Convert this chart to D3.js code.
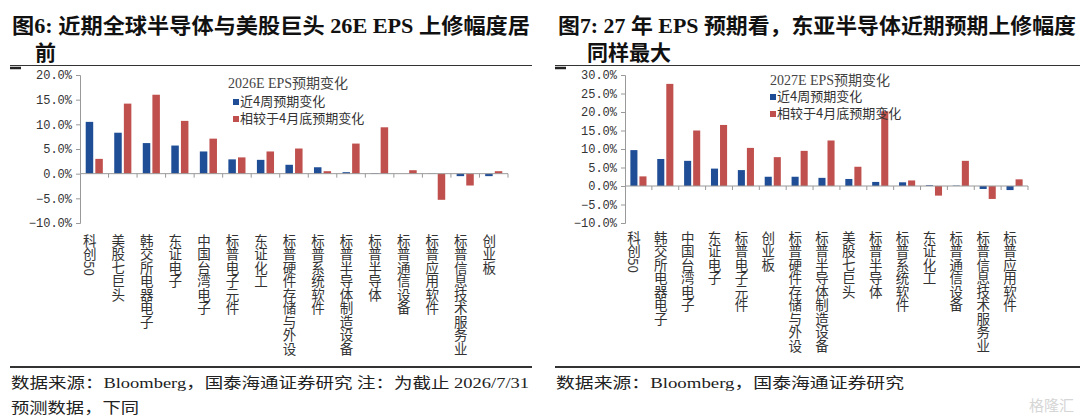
<!DOCTYPE html>
<html>
<head>
<meta charset="utf-8">
<script src="https://cdn.jsdelivr.net/npm/d3@7"></script>
<style>
  html, body { margin: 0; padding: 0; background: #fff; }
  svg { display: block; }
</style>
</head>
<body>
<div id="chart"></div>
<script>
// Figure 6: 2026E EPS revisions
const leftCategories = ["科创50", "美股七巨头", "韩交所电器电子", "东证电子", "中国台湾电子", "标普电子元件", "东证化工",
  "标普硬件存储与外设", "标普系统软件", "标普半导体制造设备", "标普半导体", "标普通信设备", "标普应用软件",
  "标普信息技术服务业", "创业板"];
const leftRecent4w = [10.5, 8.3, 6.2, 5.7, 4.5, 2.9, 2.8, 1.8, 1.3, 0.3, 0.1, 0.0, -0.05, -0.5, -0.5];
const leftSinceApril = [3.0, 14.2, 16.0, 10.7, 7.1, 3.3, 4.5, 5.1, 0.5, 6.1, 9.4, 0.7, -5.3, -2.4, 0.5];
const leftTicks = [-10, -5, 0, 5, 10, 15, 20];

// Figure 7: 2027E EPS revisions
const rightCategories = ["科创50", "韩交所电器电子", "中国台湾电子", "东证电子", "标普电子元件", "创业板",
  "标普硬件存储与外设", "标普半导体制造设备", "美股七巨头", "标普半导体", "标普系统软件", "东证化工",
  "标普通信设备", "标普信息技术服务业", "标普应用软件"];
const rightRecent4w = [9.7, 7.3, 6.8, 4.7, 4.3, 2.5, 2.5, 2.2, 1.9, 1.1, 1.0, 0.2, 0.1, -0.8, -1.1];
const rightSinceApril = [2.6, 27.6, 15.0, 16.5, 10.3, 7.8, 9.5, 12.3, 5.2, 20.2, 1.5, -2.6, 6.8, -3.5, 1.8];
const rightTicks = [-10, -5, 0, 5, 10, 15, 20, 25, 30];

const seriesNames = ["近4周预期变化", "相较于4月底预期变化"];
const colors = ["#1F4E96", "#C0504D"];

const width = 1080;
const height = 416;
const cjk = "'Noto Sans CJK SC', sans-serif";
const serif = "'Liberation Serif', 'Noto Sans CJK SC', serif";

const svg = d3.select("#chart").append("svg")
  .attr("width", width)
  .attr("height", height);

// draw one panel (title, rules, bars, axes, legend, footer)
function drawPanel(p) {
  const g = svg.append("g");

  // title lines
  g.append("text")
    .attr("x", p.titleX).attr("y", 33)
    .attr("textLength", p.titleLen).attr("lengthAdjust", "spacingAndGlyphs")
    .style("font-family", serif).style("font-weight", "bold").style("font-size", "21px")
    .attr("fill", "#111")
    .text(p.title1);
  g.append("text")
    .attr("x", p.title2X).attr("y", 60)
    .style("font-family", serif).style("font-weight", "bold").style("font-size", "21px")
    .attr("fill", "#111")
    .text(p.title2);

  // rule under title
  g.append("line")
    .attr("x1", p.ruleX1).attr("x2", p.ruleX2).attr("y1", 65.5).attr("y2", 65.5)
    .attr("stroke", "#333").attr("stroke-width", 1);
  g.append("line")
    .attr("x1", p.ruleX1).attr("x2", p.ruleX1 + 11).attr("y1", 68).attr("y2", 68)
    .attr("stroke", "#222").attr("stroke-width", 2.5);

  // bottom rule
  g.append("line")
    .attr("x1", p.ruleX1).attr("x2", p.ruleX2).attr("y1", 367).attr("y2", 367)
    .attr("stroke", "#333").attr("stroke-width", 2);

  // scales
  const x = d3.scaleBand()
    .domain(p.categories)
    .range([p.x0, p.x1]);
  const y = d3.scaleLinear()
    .domain([p.ticks[0], p.ticks[p.ticks.length - 1]])
    .range([223, 75]);
  const sub = d3.scaleBand()
    .domain([0, 1])
    .range([x.bandwidth() * 0.2, x.bandwidth() * 0.8])
    .paddingInner(0.22);

  // bars
  [p.recent, p.since].forEach((vals, s) => {
    g.append("g").selectAll("rect")
      .data(vals)
      .join("rect")
      .attr("x", (d, i) => x(p.categories[i]) + sub(s))
      .attr("width", sub.bandwidth())
      .attr("y", d => y(Math.max(0, d)))
      .attr("height", d => Math.abs(y(d) - y(0)))
      .attr("fill", colors[s]);
  });

  // y axis
  const yAxis = g.append("g")
    .attr("transform", `translate(${p.x0},0)`)
    .call(d3.axisLeft(y).tickValues(p.ticks).tickSize(4).tickPadding(4)
      .tickFormat(d => d3.format(".1f")(d) + "%"));
  yAxis.select(".domain").attr("stroke", "#999");
  yAxis.selectAll(".tick line").attr("stroke", "#999");
  yAxis.selectAll(".tick text")
    .style("font-family", "'Liberation Mono', monospace").style("font-size", "12px")
    .attr("fill", "#333");

  // x axis at zero, ticks between categories
  const xAxisG = g.append("g").attr("transform", `translate(0,${y(0)})`);
  xAxisG.append("line")
    .attr("x1", p.x0).attr("x2", p.x1)
    .attr("stroke", "#999");
  xAxisG.selectAll(".xtick")
    .data(p.categories)
    .join("line")
    .attr("class", "xtick")
    .attr("x1", d => x(d) + x.bandwidth()).attr("x2", d => x(d) + x.bandwidth())
    .attr("y1", 0).attr("y2", 4)
    .attr("stroke", "#999");

  // vertical category labels
  g.append("g").selectAll("text")
    .data(p.categories)
    .join("text")
    .attr("x", d => x(d) + x.bandwidth() / 2 - 4.5)
    .attr("y", p.labelY)
    .attr("writing-mode", "tb")
    .style("font-family", cjk).style("font-size", "13.5px")
    .attr("fill", "#333")
    .text(d => d);

  // chart title + legend
  g.append("text")
    .attr("x", p.chartTitleX).attr("y", p.chartTitleY)
    .attr("text-anchor", "middle")
    .style("font-family", serif).style("font-size", "14px")
    .attr("fill", "#444")
    .text(p.chartTitle);
  seriesNames.forEach((name, i) => {
    const ly = p.legendY[i];
    g.append("rect")
      .attr("x", p.legendX).attr("y", ly - 7)
      .attr("width", 6).attr("height", 6)
      .attr("fill", colors[i]);
    g.append("text")
      .attr("x", p.legendX + 7).attr("y", ly)
      .style("font-family", cjk).style("font-size", "13px")
      .attr("fill", "#333")
      .text(name);
  });

  // footer
  p.footer.forEach((line, i) => {
    g.append("text")
      .attr("x", p.ruleX1 + 1).attr("y", 388 + i * 25)
      .attr("textLength", line.len).attr("lengthAdjust", "spacingAndGlyphs")
      .style("font-family", serif).style("font-size", "15px")
      .attr("fill", "#222")
      .text(line.text);
  });
}

drawPanel({
  title1: "图6:  近期全球半导体与美股巨头 26E EPS 上修幅度居",
  title2: "前",
  titleX: 12, titleLen: 518, title2X: 35,
  ruleX1: 10, ruleX2: 532,
  categories: leftCategories, recent: leftRecent4w, since: leftSinceApril, ticks: leftTicks,
  x0: 80, x1: 508, labelY: 234,
  chartTitle: "2026E EPS预期变化", chartTitleX: 288, chartTitleY: 88,
  legendX: 233, legendY: [106, 123],
  footer: [
    { text: "数据来源：Bloomberg，国泰海通证券研究  注：为截止 2026/7/31", len: 518 },
    { text: "预测数据，下同", len: 128 }
  ]
});

drawPanel({
  title1: "图7:  27 年 EPS 预期看，东亚半导体近期预期上修幅度",
  title2: "同样最大",
  titleX: 558, titleLen: 518, title2X: 587,
  ruleX1: 555, ruleX2: 1080,
  categories: rightCategories, recent: rightRecent4w, since: rightSinceApril, ticks: rightTicks,
  x0: 625, x1: 1028, labelY: 231,
  chartTitle: "2027E EPS预期变化", chartTitleX: 830, chartTitleY: 85,
  legendX: 770, legendY: [101, 118],
  footer: [
    { text: "数据来源：Bloomberg，国泰海通证券研究", len: 348 }
  ]
});

// faint watermark in the corner
svg.append("text")
  .attr("x", 1074).attr("y", 411)
  .attr("text-anchor", "end")
  .style("font-family", cjk).style("font-size", "15px")
  .attr("fill", "#d6d6d6")
  .text("格隆汇");
</script>
</body>
</html>
